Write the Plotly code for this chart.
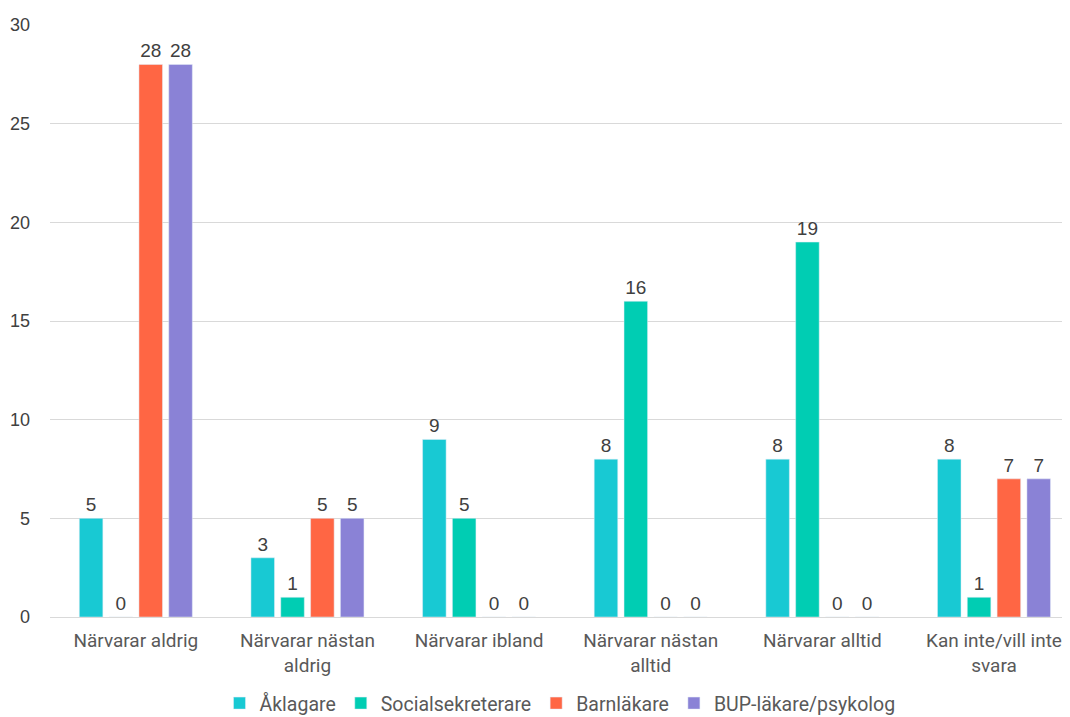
import plotly.graph_objects as go

categories = ["Närvarar aldrig", "Närvarar nästan<br>aldrig", "Närvarar ibland",
              "Närvarar nästan<br>alltid", "Närvarar alltid", "Kan inte/vill inte<br>svara"]
series_names = ["Åklagare", "Socialsekreterare", "Barnläkare", "BUP-läkare/psykolog"]
aklagare = [5, 3, 9, 8, 8, 8]
socialsekreterare = [0, 1, 5, 16, 19, 1]
barnlakare = [28, 5, 0, 0, 0, 7]
bup = [28, 5, 0, 0, 0, 7]
colors = ["#18C9D3", "#00CDB3", "#FF6644", "#8A82D6"]

fig = go.Figure()
for name, vals, col in zip(series_names, [aklagare, socialsekreterare, barnlakare, bup], colors):
    fig.add_trace(go.Bar(
        name=name, x=categories, y=vals, marker_color=col,
        text=vals, textposition="outside", cliponaxis=False,
        textfont=dict(family="Liberation Sans", size=19, color="#404040"),
    ))

fig.update_layout(
    width=1062, height=709,
    barmode="group", bargap=0.305, bargroupgap=0.21,
    plot_bgcolor="white", paper_bgcolor="white",
    margin=dict(l=42, r=0, t=17, b=100, autoexpand=False),
    legend=dict(orientation="h", x=0.5, xanchor="center", y=-0.146, yanchor="middle",
                font=dict(family="Roboto", size=19.5, color="#595959"), itemwidth=30,
                traceorder="normal"),
    yaxis=dict(range=[0, 30], dtick=5, showgrid=True, gridcolor="#D9D9D9",
               tickfont=dict(family="Liberation Sans", size=18, color="#404040"),
               zeroline=False, ticks="", ticklabelstandoff=19, automargin=False),
    xaxis=dict(range=[-0.5, 5.443], tickfont=dict(family="Roboto", size=19, color="#595959"),
               showline=True, linecolor="#D9D9D9", ticks="", automargin=False,
               ticklabelstandoff=6),
)
fig.write_html("out.html")
